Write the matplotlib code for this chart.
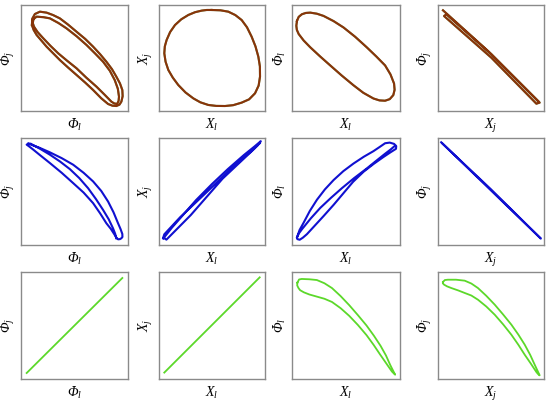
import matplotlib
matplotlib.use("Agg")
import matplotlib.pyplot as plt

plt.rcParams['mathtext.fontset'] = 'custom'
plt.rcParams['mathtext.rm'] = 'Liberation Serif:italic'
plt.rcParams['mathtext.it'] = 'Liberation Serif:italic'
plt.rcParams['font.family'] = ['Liberation Serif', 'DejaVu Serif']

# ---- traced curve data (normalized phase-space coordinates) ----
# Row 1 (red/green overlapped -> brown)
p1_x = [.102, .105, .130, .177, .239, .300, .363, .440, .519, .600, .674, .740, .798, .850, .891, .925, .947, .950, .938,
        .920, .891, .855, .814, .750, .674, .600, .519, .440, .363, .300, .239, .190, .146, .118, .102,
        .110, .146, .210, .270, .350, .425, .520, .612, .690, .767, .830, .876, .905, .916, .912, .898, .870, .845,
        .780, .705, .610, .519, .430, .348, .275, .208, .155, .121, .110, .115]
p1_y = [.811, .870, .915, .937, .928, .905, .874, .815, .748, .680, .607, .535, .465, .395, .324, .260, .198, .140, .088,
        .060, .047, .050, .066, .120, .198, .268, .340, .410, .481, .545, .607, .665, .717, .765, .811,
        .862, .890, .885, .874, .830, .780, .705, .623, .545, .465, .380, .292, .210, .135, .095, .066, .072, .088,
        .155, .230, .315, .403, .475, .544, .615, .686, .745, .796, .830, .858]

p2_x = [.497, .580, .654, .720, .780, .830, .874, .910, .937, .952, .953, .940, .906, .850, .780, .700, .623, .540,
        .465, .390, .324, .250, .182, .130, .088, .062, .050, .055, .072, .105, .151, .210, .277, .340, .403, .450, .497]
p2_y = [.953, .950, .937, .905, .858, .790, .701, .610, .513, .420, .324, .240, .167, .110, .079, .055, .047, .048,
        .057, .082, .119, .175, .245, .315, .387, .465, .544, .610, .670, .745, .811, .865, .906, .932, .947, .953, .953]

p3_x = [.046, .062, .092, .128, .169, .230, .292, .385, .477, .585, .692, .780, .862, .912, .945, .950, .938, .905,
        .862, .810, .754, .660, .569, .460, .354, .260, .169, .108, .062, .045, .040, .046]
p3_y = [.850, .888, .913, .925, .928, .918, .897, .848, .788, .700, .601, .515, .430, .345, .259, .200, .150, .112,
        .097, .100, .118, .172, .243, .335, .430, .515, .601, .665, .726, .765, .804, .850]

p4_x = [.047, .472, .959, .928, .503, .057, .079, .503, .943]
p4_y = [.950, .566, .079, .069, .503, .896, .912, .535, .094]

# Row 2 (blue)
p5_x = [.068, .170, .270, .380, .488, .585, .674, .750, .814, .865, .907, .930, .947, .948, .938, .925, .907, .890,
        .876, .840, .798, .740, .674, .585, .488, .380, .270, .180, .115, .075, .053, .070, .090, .180, .270, .365,
        .457, .545, .627, .700, .767, .820, .860, .880, .891]
p5_y = [.947, .910, .866, .812, .750, .675, .594, .505, .406, .305, .203, .150, .103, .075, .063, .055, .053, .070,
        .094, .150, .203, .295, .391, .490, .578, .675, .766, .838, .891, .922, .938, .948, .947, .898, .844, .780,
        .709, .625, .531, .430, .328, .240, .156, .105, .063]

p6_x = [.04, .12, .20, .35, .50, .65, .80, .90, .96, .93, .90, .75, .60, .45, .30, .18, .07, .04, .05, .20, .35, .52, .70, .85, .95]
p6_y = [.06, .16, .25, .42, .57, .71, .84, .92, .97, .93, .90, .76, .62, .45, .28, .16, .05, .07, .10, .26, .40, .56, .73, .86, .95]

p7_x = [.046, .070, .108, .165, .231, .305, .385, .475, .569, .665, .754, .810, .862, .905, .945, .965, .963, .910,
        .846, .755, .662, .565, .477, .385, .292, .210, .138, .100, .071, .050, .046, .065, .092, .175, .262, .360,
        .462, .575, .692, .780, .862, .910, .945]
p7_y = [.071, .140, .209, .318, .423, .520, .607, .690, .761, .825, .877, .915, .951, .957, .945, .925, .899, .865,
        .822, .757, .684, .590, .485, .375, .270, .180, .101, .068, .049, .055, .071, .110, .147, .250, .347, .440,
        .531, .625, .715, .787, .853, .890, .920]

p8_x = [.03, .50, .97, .96, .50, .04]
p8_y = [.96, .51, .06, .07, .52, .95]

# Row 3 (green)
p9_x = [.053, .947]
p9_y = [.056, .944]

p10_x = [.05, .95]
p10_y = [.06, .95]

p11_x = [.050, .065, .090, .160, .230, .300, .370, .450, .530, .610, .690, .758, .820, .870, .910, .935, .955, .940,
         .925, .870, .815, .755, .690, .610, .530, .450, .370, .300, .230, .160, .110, .075, .060, .048, .050]
p11_y = [.900, .930, .935, .932, .925, .895, .850, .775, .690, .597, .500, .405, .310, .220, .130, .080, .040, .055,
         .070, .150, .230, .320, .410, .505, .590, .662, .720, .750, .770, .790, .810, .830, .850, .875, .900]

p12_x = [.047, .065, .094, .170, .252, .315, .377, .455, .535, .615, .692, .758, .818, .870, .912, .940, .959, .945,
         .928, .875, .818, .758, .692, .615, .535, .455, .377, .315, .252, .190, .126, .085, .057, .045, .047]
p12_y = [.907, .925, .928, .928, .919, .892, .850, .778, .695, .602, .508, .415, .321, .225, .134, .075, .034, .045,
         .065, .145, .227, .320, .414, .510, .601, .678, .741, .780, .804, .828, .850, .866, .882, .895, .907]

xlabels = [r'$\Phi_l$', r'$X_l$', r'$X_l$', r'$X_j$']
ylabels = [r'$\Phi_j$', r'$X_j$', r'$\Phi_l$', r'$\Phi_j$']

rows = [[(p1_x, p1_y), (p2_x, p2_y), (p3_x, p3_y), (p4_x, p4_y)],
        [(p5_x, p5_y), (p6_x, p6_y), (p7_x, p7_y), (p8_x, p8_y)],
        [(p9_x, p9_y), (p10_x, p10_y), (p11_x, p11_y), (p12_x, p12_y)]]

W, H = 550, 403
col_px = [(21, 128), (159, 265), (292, 400), (438, 544)]
row_px = [(5, 111), (138, 245), (272, 379)]

fig = plt.figure(figsize=(W / 100, H / 100), dpi=100)

for r, (y0, y1) in enumerate(row_px):
    for c, (x0, x1) in enumerate(col_px):
        ax = fig.add_axes([x0 / W, 1 - y1 / H, (x1 - x0) / W, (y1 - y0) / H])
        xs, ys = rows[r][c]
        if r == 0:
            ax.plot(xs, ys, color='#1f6a00', lw=1.5, solid_joinstyle='round')
            ax.plot(xs, ys, color='#d01010', lw=1.5, alpha=0.6, solid_joinstyle='round')
        elif r == 1:
            ax.plot(xs, ys, color='#1010d0', lw=1.5, solid_joinstyle='round')
        else:
            ax.plot(xs, ys, color='#5cd82a', lw=1.3, solid_joinstyle='round')
        ax.set_xlim(0, 1)
        ax.set_ylim(0, 1)
        ax.set_xticks([])
        ax.set_yticks([])
        for s in ax.spines.values():
            s.set_color('#8a8a8a')
            s.set_linewidth(1.0)
        ax.set_xlabel(xlabels[c], fontsize=10, labelpad=4)
        ax.set_ylabel(ylabels[c], fontsize=10, labelpad=3)

fig.savefig('out.png', dpi=100, facecolor='white')
